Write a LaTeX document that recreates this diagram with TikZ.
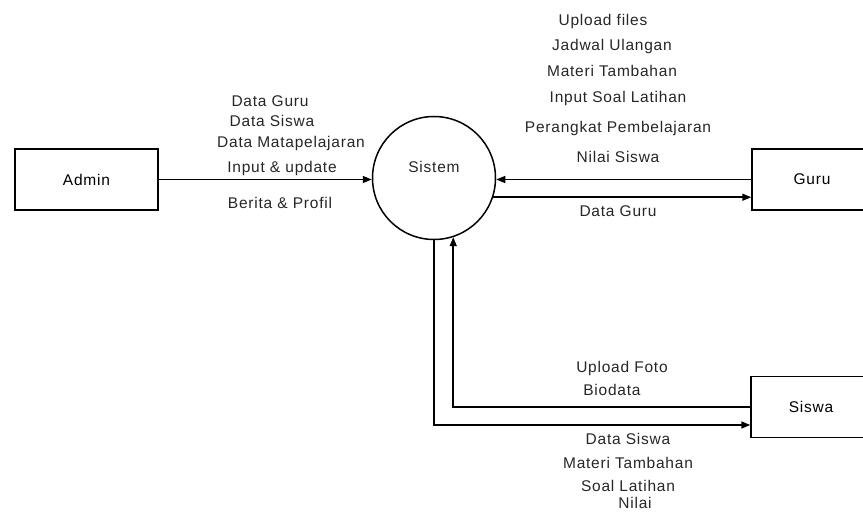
\documentclass[tikz,border=0pt]{standalone}
\usepackage{fontspec}
\setmainfont{Liberation Sans}[LetterSpace=5.0]
\usetikzlibrary{arrows.meta}

\tikzset{
  entity/.style={draw, rectangle, minimum height=61pt, inner sep=0pt},
  process/.style={draw, circle, minimum size=123pt, inner sep=0pt},
  flowtxt/.style={inner sep=0pt, text=black!85},
}

\begin{document}
\begin{tikzpicture}[x=1pt, y=-1pt, line width=1.5pt, >={Triangle[length=9pt,width=7pt]},
    every node/.style={font=\fontsize{15.5}{18}\selectfont}]
   	 \useasboundingbox (0,0) rectangle (863,513);
   	 % entities and the process
   	 \node[entity, minimum width=143pt] (admin) at (86.5,179.5) {Admin};
   	 \node[process] (sistem) at (434,178) {};
   	 \node[flowtxt] (sistemtxt) at (434,167) {Sistem};
   	 \node[entity, minimum width=120pt] (guru) at (812,179.5) {Guru};
   	 \node[entity, minimum width=120pt] (siswa) at (811,407) {Siswa};
   	 % flows
   	 \draw[->] (admin.east) -- (admin.east -| sistem.west);
   	 \draw[->] (guru.west) -- (guru.west -| sistem.east);
   	 \draw[->] (sistem.-18) -- (sistem.-18 -| guru.west);
   	 \draw[->] (siswa.west) -| (sistem.-72);
   	 \draw[->] (sistem.south) |- ([yshift=-18pt]siswa.west);
   	 % admin labels
   	 \node[flowtxt] (adm1) at (270,101) {Data Guru};
   	 \node[flowtxt] (adm2) at (272,121) {Data Siswa};
   	 \node[flowtxt] (adm3) at (291,143) {Data Matapelajaran};
   	 \node[flowtxt] (adm4) at (282,168) {Input \& update};
   	 \node[flowtxt] (adm5) at (280,203) {Berita \& Profil};
   	 % guru labels
   	 \node[flowtxt] (gur1) at (603,21) {Upload files};
   	 \node[flowtxt] (gur2) at (612,46) {Jadwal Ulangan};
   	 \node[flowtxt] (gur3) at (612,71) {Materi Tambahan};
   	 \node[flowtxt] (gur4) at (618,98) {Input Soal Latihan};
   	 \node[flowtxt] (gur5) at (618,128) {Perangkat Pembelajaran};
   	 \node[flowtxt] (gur6) at (618,157) {Nilai Siswa};
   	 \node[flowtxt] (gur7) at (618,211) {Data Guru};
   	 % siswa labels
   	 \node[flowtxt] (sis1) at (622,368) {Upload Foto};
   	 \node[flowtxt] (sis2) at (612,390) {Biodata};
   	 \node[flowtxt] (sis3) at (628,439) {Data Siswa};
   	 \node[flowtxt] (sis4) at (628,463) {Materi Tambahan};
   	 \node[flowtxt] (sis5) at (628,486) {Soal Latihan};
   	 \node[flowtxt] (sis6) at (635,503) {Nilai};
\end{tikzpicture}
\end{document}
